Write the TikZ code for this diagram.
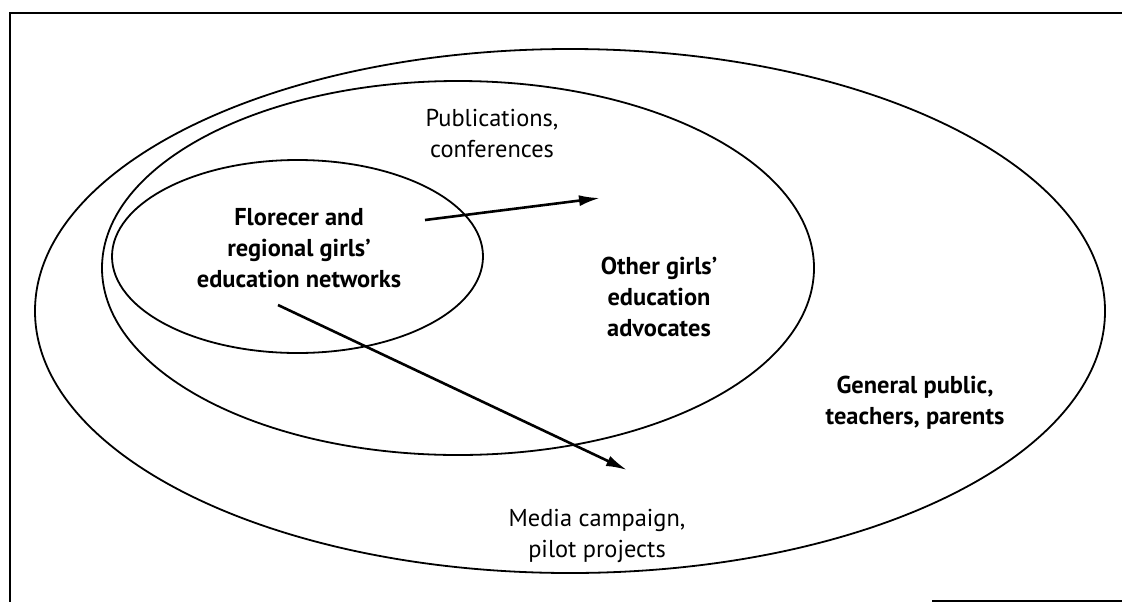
\documentclass[tikz,border=0pt]{standalone}
\usepackage{fontspec}
\setmainfont{PT Sans}
\usetikzlibrary{arrows.meta}
\tikzset{
  ring/.style={line width=0.9pt},
  spread/.style={line width=1.3pt,-{Latex[length=10.5pt,width=5.5pt]}},
  label/.style={align=center,font=\fontsize{12.2}{15.5}\selectfont},
  group/.style={label,font=\fontsize{12.2}{15.5}\selectfont\bfseries}
}
\begin{document}
\begin{tikzpicture}[x=0.5pt,y=0.5pt]
\useasboundingbox (0,0) rectangle (1122,602);
% frame
\draw[line width=1.4pt] (1122,589) -- (10,589) -- (10,0);
\draw[line width=1.4pt] (932,1) -- (1122,1);
% rings
\draw[ring] (570,291) ellipse [x radius=535, y radius=262];
\draw[ring] (458,334) ellipse [x radius=356, y radius=187];
\draw[ring] (297.5,345.5) ellipse [x radius=185.5, y radius=96.5];
% texts
\node[group] (core) at (299,354) {Florecer and\\regional girls'\\education networks};
\node[group] (others) at (659,305) {Other girls'\\education\\advocates};
\node[group] (public) at (915,199) {General public,\\teachers, parents};
\node[label] (pubs) at (492,468) {Publications,\\conferences};
\node[label] (media) at (597,66) {Media campaign,\\pilot projects};
% arrows
\coordinate (pubsfrom) at (425,382);
\coordinate (pubsto) at (600,404);
\coordinate (mediafrom) at (278,297);
\coordinate (mediato) at (627,132);
\draw[spread] (pubsfrom) -- (pubsto);
\draw[spread] (mediafrom) -- (mediato);
\end{tikzpicture}
\end{document}
